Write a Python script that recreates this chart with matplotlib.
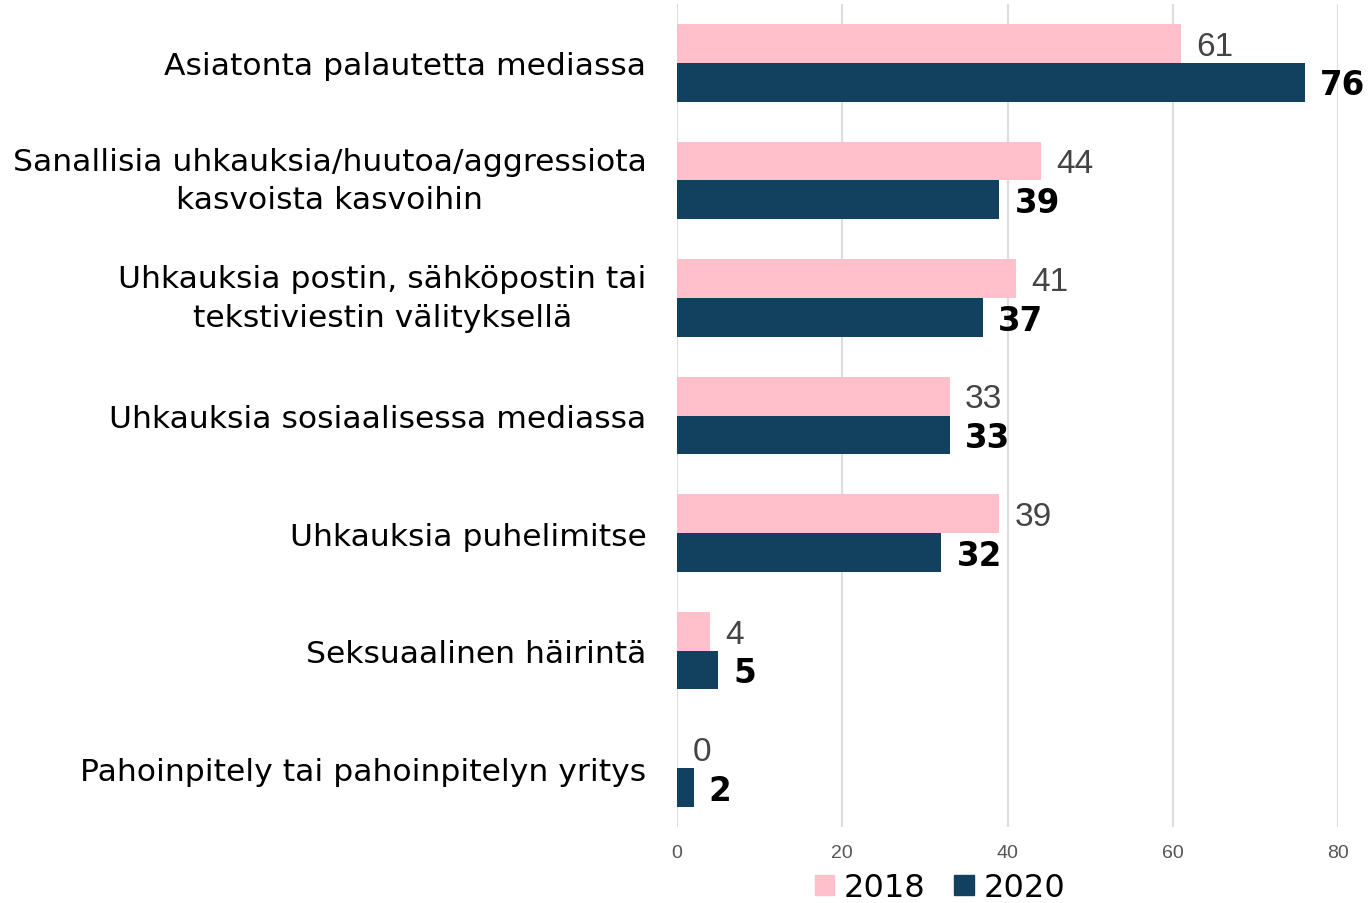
import numpy as np
import matplotlib
matplotlib.use('Agg')
import matplotlib.pyplot as plt
from matplotlib.patches import Patch

categories = [
    "Asiatonta palautetta mediassa",
    "Sanallisia uhkauksia/huutoa/aggressiota\nkasvoista kasvoihin",
    "Uhkauksia postin, sähköpostin tai\ntekstiviestin välityksellä",
    "Uhkauksia sosiaalisessa mediassa",
    "Uhkauksia puhelimitse",
    "Seksuaalinen häirintä",
    "Pahoinpitely tai pahoinpitelyn yritys",
]
values_2018 = [61, 44, 41, 33, 39, 4, 0]
values_2020 = [76, 39, 37, 33, 32, 5, 2]
x_ticks = [0, 20, 40, 60, 80]

PINK = "#FFC0CB"
NAVY = "#12405F"

plt.rcParams['font.family'] = ['DejaVu Sans']

fig = plt.figure(figsize=(13.68, 9.04), dpi=100)
ax = fig.add_axes([677 / 1368, 1 - 828 / 904, 661 / 1368, 823 / 904])

y = np.arange(len(categories))
h = 0.33
ax.barh(y - h / 2, values_2018, height=h, color=PINK, zorder=2)
ax.barh(y + h / 2, values_2020, height=h, color=NAVY, zorder=2)

# value labels to the right of each bar
for i, (a, b) in enumerate(zip(values_2018, values_2020)):
    ax.annotate(str(a), (a, i - h / 2), xytext=(11, -2), textcoords='offset points',
                va='center', ha='left', fontsize=24, color='#444444',
                family=['Liberation Sans', 'DejaVu Sans'])
    ax.annotate(str(b), (b, i + h / 2), xytext=(11, -2), textcoords='offset points',
                va='center', ha='left', fontsize=23.5, color='black', fontweight='bold')

ax.set_xlim(0, 80)
ax.set_ylim(len(categories) - 0.5, -0.5)
ax.set_xticks(x_ticks)
ax.set_xticklabels([str(t) for t in x_ticks], fontsize=14, color='#555555',
                   family=['Liberation Sans Narrow', 'Liberation Sans'])
ax.set_yticks(y)
ax.set_yticklabels(categories, fontsize=22.6, color='black', multialignment='center',
                   linespacing=1.4)
for lbl in ax.get_yticklabels():
    if '\n' in lbl.get_text():
        lbl.set_verticalalignment('center')
ax.tick_params(axis='y', length=0, pad=22)
ax.tick_params(axis='x', length=0, pad=12)
ax.grid(axis='x', color='#DDDDDD', linewidth=1.5, zorder=0)
for s in ax.spines.values():
    s.set_visible(False)

handles = [Patch(color=PINK, label='2018'), Patch(color=NAVY, label='2020')]
fig.legend(handles=handles, loc='center', bbox_to_anchor=(940 / 1368, 1 - 889 / 904),
           ncol=2, frameon=False, prop={'family': 'DejaVu Sans', 'size': 23},
           handlelength=0.6, handleheight=0.6, handletextpad=0.3, columnspacing=0.9,
           borderpad=0)

fig.savefig('out.png', dpi=100)
